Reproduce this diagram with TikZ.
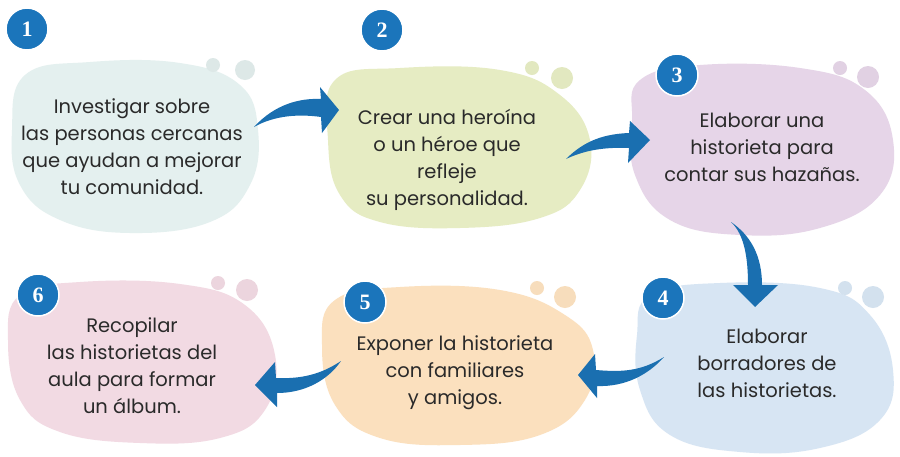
\documentclass[tikz,border=0pt]{standalone}
\usepackage{fontspec}
\setmainfont{Poppins}
\newfontfamily\numfont{Liberation Serif}
\definecolor{cA}{HTML}{E4F0EF}
\definecolor{cB}{HTML}{E6ECC3}
\definecolor{cC}{HTML}{E6D5E8}
\definecolor{cD}{HTML}{D7E5F3}
\definecolor{cE}{HTML}{FBE0BE}
\definecolor{cF}{HTML}{F2DAE3}
\definecolor{arrowblue}{HTML}{1A6FB0}
\definecolor{numblue}{HTML}{1B75BB}
\definecolor{txt}{HTML}{2A2A2A}
\tikzset{
  blob/.style={smooth cycle, tension=0.7},
  numcircle/.style={circle, fill=numblue, draw=white, line width=1.5pt, minimum size=42pt, inner sep=0pt, text=white, font=\numfont\bfseries\fontsize{22}{22}\selectfont},
  steptext/.style={align=center, text=txt, font=\fontsize{19.5}{27}\selectfont, inner sep=0pt},
  arr/.style={fill=arrowblue}
}
\begin{document}
\begin{tikzpicture}[x=1pt,y=-1pt]
\useasboundingbox[fill=white] (0,0) rectangle (900,456);
% blobs
\fill[cA] plot[blob] coordinates {(25,75) (90,62) (180,63) (240,85) (258,130) (250,185) (210,222) (130,233) (60,220) (20,185) (12,130)};
\fill[cB] plot[blob] coordinates {(335,80) (400,68) (500,70) (560,95) (590,140) (580,190) (540,218) (460,228) (380,222) (340,195) (328,140)};
\fill[cC] plot[blob] coordinates {(640,80) (700,65) (800,68) (865,90) (893,140) (880,195) (820,228) (740,235) (670,220) (635,175) (632,120)};
\fill[cD] plot[blob] coordinates {(650,295) (720,283) (820,288) (870,315) (893,370) (880,420) (820,448) (740,452) (670,435) (640,390) (637,335)};
\fill[cE] plot[blob] coordinates {(335,300) (400,287) (500,290) (565,315) (593,350) (585,400) (540,435) (460,445) (380,438) (335,405) (322,345)};
\fill[cF] plot[blob] coordinates {(20,295) (80,282) (180,284) (245,305) (275,355) (265,410) (220,438) (140,443) (60,432) (20,400) (8,340)};
% dots
\fill[cA!93!gray] (213,65) circle (7) (245,70) circle (10);
\fill[cB!96!gray] (532,68) circle (7) (562,78) circle (11);
\fill[cC!95!gray] (840,68) circle (7) (868,77) circle (11);
\fill[cD!96!gray] (845,288) circle (7) (873,297) circle (11);
\fill[cE!97!gray] (537,288) circle (7) (565,297) circle (11);
\fill[cF!95!gray] (218,283) circle (7) (247,290) circle (11);
% text nodes
\node[steptext] (t1) at (132,147) {Investigar sobre\\las personas cercanas\\que ayudan a mejorar\\tu comunidad.};
\node[steptext] (t2) at (447,160) {Crear una heroína\\o un héroe que\\refleje\\su personalidad.};
\node[steptext] (t3) at (762,147) {Elaborar una\\historieta para\\contar sus hazañas.};
\node[steptext] (t4) at (767,363) {Elaborar\\borradores de\\las historietas.};
\node[steptext] (t5) at (455,373) {Exponer la historieta\\con familiares\\y amigos.};
\node[steptext] (t6) at (132,366) {Recopilar\\las historietas del\\aula para formar\\un álbum.};
% arrow end coordinates
\coordinate (a1) at (254,127); \coordinate (b1) at (339,110);
\coordinate (a2) at (566,159); \coordinate (b2) at (650,140);
\coordinate (a3) at (731,222); \coordinate (b3) at (755,307);
\coordinate (a4) at (664,357); \coordinate (b4) at (578,375);
\coordinate (a5) at (341,361); \coordinate (b5) at (255,385);
% arrows
\fill[arr] (a1) .. controls (275,104) and (300,98) .. (321,99) -- (320,87) -- (b1) -- (322,133) -- (321,117) .. controls (300,114) and (275,115) .. (a1) -- cycle;
\fill[arr] (a2) .. controls (585,140) and (605,134) .. (629,133) -- (630,121) -- (b2) -- (628,163) -- (629,148) .. controls (605,147) and (585,150) .. (a2) -- cycle;
\fill[arr] (a3) .. controls (745,235) and (748,260) .. (748,285) -- (733,285) -- (b3) -- (778,285) -- (762,285) .. controls (762,255) and (750,235) .. (a3) -- cycle;
\fill[arr] (a4) .. controls (640,372) and (620,372) .. (596,370) -- (595,354) -- (b4) -- (597,398) -- (597,386) .. controls (625,387) and (648,375) .. (a4) -- cycle;
\fill[arr] (a5) .. controls (320,375) and (300,379) .. (276,378) -- (275,362) -- (b5) -- (277,407) -- (277,393) .. controls (305,393) and (328,380) .. (a5) -- cycle;
% number circles
\node[numcircle] (n1) at (27,29) {1};
\node[numcircle] (n2) at (382,30) {2};
\node[numcircle] (n3) at (677,75) {3};
\node[numcircle] (n4) at (663,298) {4};
\node[numcircle] (n5) at (365,302) {5};
\node[numcircle] (n6) at (38,295) {6};
\end{tikzpicture}
\end{document}
